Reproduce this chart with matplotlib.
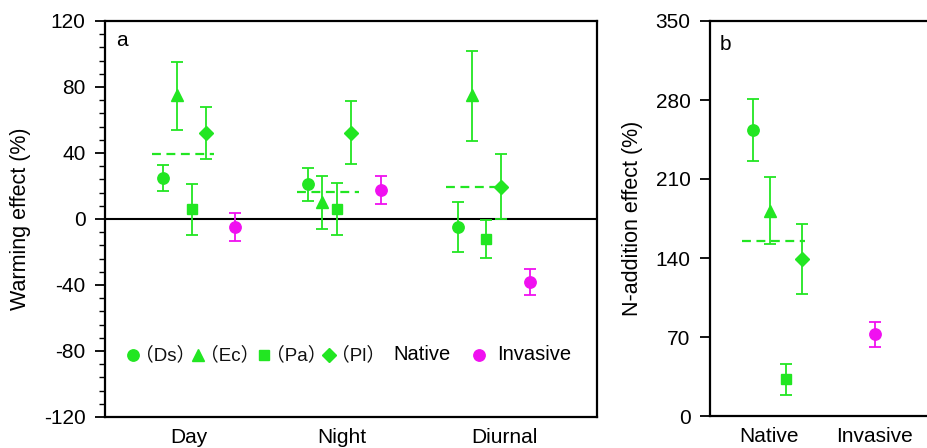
import matplotlib
matplotlib.use("Agg")
import matplotlib.pyplot as plt
import numpy as np
from matplotlib.ticker import MultipleLocator

plt.rcParams['font.family'] = ['Liberation Sans', 'Noto Sans CJK SC', 'DejaVu Sans']
plt.rcParams['axes.unicode_minus'] = False

GREEN = '#22e622'
MAGENTA = '#f010f0'

# ---------------- Panel a data (warming effect, %) ----------------
periods = ['Day', 'Night', 'Diurnal']
species = ['Ds', 'Ec', 'Pa', 'Pl']
# rows: periods, cols: species
native_mean = [[25, 75, 6, 52],
               [21, 10, 6, 52],
               [-5, 75, -12, 19.6]]
native_lo = [[8, 21, 15.5, 15.5],
             [10, 16, 16, 18.5],
             [15, 28, 11.5, 19.6]]
native_hi = [[8, 20, 15.5, 16],
             [10, 16, 16, 19.5],
             [15, 27, 11.5, 19.8]]
native_overall = [39.4, 16.5, 19.6]
invasive_mean = [-5, 17.5, -38]
invasive_err = [8.5, 8.7, 7.8]

# ---------------- Panel b data (N-addition effect, %) ----------------
b_categories = ['Native', 'Invasive']
b_native_mean = [253, 182, 32.5, 139]
b_native_lo = [27, 30, 14, 31]
b_native_hi = [28, 30, 14, 31]
b_native_overall = 155.5
b_invasive_mean = 72.5
b_invasive_err = 11

markers = ['o', '^', 's', 'D']
msizes = [8.2, 9, 7.2, 7.5]

fig = plt.figure(figsize=(9.27, 4.48), dpi=100)
W, H = 927, 448

def px_axes(l, t, r, b):
    return fig.add_axes([l / W, 1 - b / H, (r - l) / W, (b - t) / H])

axa = px_axes(105, 21, 597, 417)
axb = px_axes(710, 21, 960, 416)

err_kw = dict(elinewidth=1.3, capsize=4, capthick=1.3, linestyle='none')

# ---- panel a ----
group_start = [1.18, 4.13, 7.17]
step = 0.29
inv_off = 1.47
for g in range(3):
    xs = group_start[g] + step * np.arange(4)
    for k in range(4):
        axa.errorbar(xs[k], native_mean[g][k],
                     yerr=[[native_lo[g][k]], [native_hi[g][k]]],
                     marker=markers[k], ms=msizes[k], color=GREEN,
                     mec=GREEN, zorder=3, **err_kw)
    axa.plot([xs[0] - 0.23, xs[3] + 0.16], [native_overall[g]] * 2,
             ls=(0, (4, 2.5)), color=GREEN, lw=1.6, zorder=2)
    axa.errorbar(group_start[g] + inv_off, invasive_mean[g],
                 yerr=invasive_err[g], marker='o', ms=8.2, color=MAGENTA,
                 zorder=3, **err_kw)

axa.axhline(0, color='black', lw=1.5, zorder=1)
axa.set_xlim(0, 10)
axa.set_ylim(-120, 120)
axa.yaxis.set_major_locator(MultipleLocator(40))
axa.yaxis.set_minor_locator(MultipleLocator(8))
axa.set_xticks([1.71, 4.82, 8.11])
axa.set_xticklabels(periods)
axa.tick_params(axis='x', length=0, pad=8, labelsize=15)
axa.tick_params(axis='y', which='major', length=7, width=1.3, labelsize=15, pad=7)
axa.tick_params(axis='y', which='minor', length=4, width=1.0)
axa.set_ylabel('Warming effect (%)', fontsize=15.5, labelpad=9)
for s in axa.spines.values():
    s.set_linewidth(1.6)
axa.text(0.022, 0.975, 'a', transform=axa.transAxes, fontsize=15, va='top', ha='left')

# legend row (manual)
ly = (417 - 355) / 396
legend_items = [('o', GREEN, 133, '（Ds）', 135), ('^', GREEN, 198, '（Ec）', 200),
                ('s', GREEN, 264, '（Pa）', 266), ('D', GREEN, 329, '（Pl）', 331)]
for i, (m, c, mx, txt, tx) in enumerate(legend_items):
    axa.plot([(mx - 105) / 492], [ly], marker=m, ms=msizes[i], color=c,
             transform=axa.transAxes, clip_on=False)
    axa.text((tx - 105) / 492, ly, txt, transform=axa.transAxes, fontsize=13.5,
             va='center', ha='left', color='#111111')
axa.text((393 - 105) / 492, ly, 'Native', transform=axa.transAxes, fontsize=14.5,
         va='center', ha='left')
axa.plot([(479 - 105) / 492], [ly], marker='o', ms=8.2, color=MAGENTA,
         transform=axa.transAxes)
axa.text((497 - 105) / 492, ly, 'Invasive', transform=axa.transAxes, fontsize=14.5,
         va='center', ha='left')

# ---- panel b ----
b_start = 0.88
b_step = 0.33
bxs = b_start + b_step * np.arange(4)
for k in range(4):
    axb.errorbar(bxs[k], b_native_mean[k], yerr=[[b_native_lo[k]], [b_native_hi[k]]],
                 marker=markers[k], ms=msizes[k], color=GREEN, zorder=3, **err_kw)
axb.plot([bxs[0] - 0.22, bxs[3] + 0.07], [b_native_overall] * 2,
         ls=(0, (4, 2.5)), color=GREEN, lw=1.6, zorder=2)
axb.errorbar(3.35, b_invasive_mean, yerr=b_invasive_err, marker='o', ms=8.2,
             color=MAGENTA, zorder=3, **err_kw)
axb.set_xlim(0, 250 / 49.2)
axb.set_ylim(0, 350)
axb.yaxis.set_major_locator(MultipleLocator(70))
axb.set_xticks([1.2, 3.35])
axb.set_xticklabels(b_categories)
axb.tick_params(axis='x', length=0, pad=8, labelsize=15)
axb.tick_params(axis='y', length=7, width=1.3, labelsize=15, pad=7)
axb.set_ylabel('N-addition effect (%)', fontsize=15.5, labelpad=9)
for s in axb.spines.values():
    s.set_linewidth(1.6)
axb.text(0.04, 0.965, 'b', transform=axb.transAxes, fontsize=15, va='top', ha='left')

fig.savefig('out.png', dpi=100)
